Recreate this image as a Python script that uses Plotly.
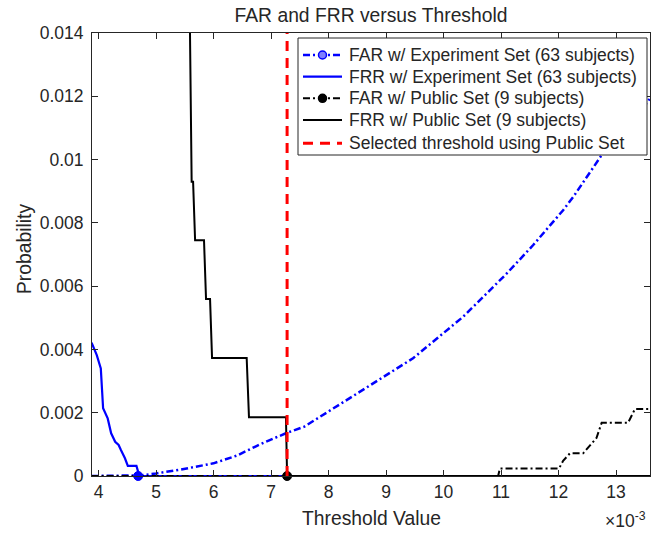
import plotly.graph_objects as go

# ---------------- data (threshold values in units of 1e-3) ----------------
far_exp_x = [3.88, 4.60, 4.75, 5.00, 5.42, 6.00, 6.40, 6.81, 7.27, 7.58, 8.03,
             8.49, 9.47, 10.34, 11.10, 11.56, 12.08, 12.26, 12.75, 13.20, 13.62]
far_exp_y = [0.0, 0.0, 0.00002, 0.00008, 0.0002, 0.0004, 0.00064, 0.0010, 0.00136,
             0.00156, 0.00208, 0.00261, 0.00372, 0.00503, 0.0064, 0.0073, 0.0084,
             0.00883, 0.01014, 0.0110, 0.0120]

frr_exp_x = [3.88, 3.97, 4.04, 4.08, 4.16, 4.22, 4.29, 4.35, 4.39, 4.46, 4.51,
             4.66, 4.71, 13.70]
frr_exp_y = [0.00421, 0.00382, 0.00340, 0.00214, 0.00182, 0.00135, 0.00108,
             0.00098, 0.00082, 0.00056, 0.00032, 0.00032, 0.0, 0.0]

far_pub_x = [3.88, 10.95, 10.98, 12.01, 12.08, 12.20, 12.43, 12.55, 12.66, 12.75,
             13.21, 13.33, 13.70]
far_pub_y = [0.0, 0.0, 0.00024, 0.00024, 0.00048, 0.00072, 0.00072, 0.00096,
             0.0012, 0.00168, 0.00168, 0.00212, 0.00212]

frr_pub_x = [5.588, 5.62, 5.645, 5.68, 5.835, 5.87, 5.94, 5.975, 6.577, 6.617,
             7.26, 7.28, 13.70]
frr_pub_y = [0.0145, 0.0093, 0.0093, 0.00745, 0.00745, 0.00559, 0.00559,
             0.00373, 0.00373, 0.00186, 0.00186, 0.0, 0.0]

eer_exp_x, eer_exp_y = [4.69], [0.0]
eer_pub_x, eer_pub_y = [7.28], [0.0]
selected_threshold = 7.28

x_ticks = [4, 5, 6, 7, 8, 9, 10, 11, 12, 13]
x_tick_labels = ["4", "5", "6", "7", "8", "9", "10", "11", "12", "13"]
y_ticks = [0, 0.002, 0.004, 0.006, 0.008, 0.01, 0.012, 0.014]
y_tick_labels = ["0", "0.002", "0.004", "0.006", "0.008", "0.01", "0.012", "0.014"]

legend_names = [
    "FAR w/ Experiment Set (63 subjects)",
    "FRR w/ Experiment Set (63 subjects)",
    "FAR w/ Public Set (9 subjects)",
    "FRR w/ Public Set (9 subjects)",
    "Selected threshold using Public Set",
]

# ---------------- styles ----------------
FONT = "Liberation Sans, Arial, Helvetica, sans-serif"
TXT = "#262626"
BLUE = "#0000ff"
BLACK = "#000000"
RED = "#ff0000"
DASHDOT = "7px,3px,2px,3px"
RED_DASH = "10px,7px"

W, H = 651, 534
ML, MR, MT, MB = 92, 1, 33, 58
PW, PH = W - ML - MR, H - MT - MB


def px_x(px):
    return (px - ML) / PW


def px_y(py):
    return 1 - (py - MT) / PH


fig = go.Figure()

fig.add_trace(go.Scatter(x=far_exp_x, y=far_exp_y, mode="lines", name=legend_names[0],
                         line=dict(color=BLUE, width=2.5, dash=DASHDOT)))
fig.add_trace(go.Scatter(x=frr_exp_x, y=frr_exp_y, mode="lines", name=legend_names[1],
                         line=dict(color=BLUE, width=2.2)))
fig.add_trace(go.Scatter(x=far_pub_x, y=far_pub_y, mode="lines", name=legend_names[2],
                         line=dict(color=BLACK, width=2, dash=DASHDOT)))
fig.add_trace(go.Scatter(x=frr_pub_x, y=frr_pub_y, mode="lines", name=legend_names[3],
                         line=dict(color=BLACK, width=2)))
fig.add_trace(go.Scatter(x=eer_exp_x, y=eer_exp_y, mode="markers", cliponaxis=False,
                         marker=dict(color=BLUE, size=9, line=dict(color=BLUE, width=1))))
fig.add_trace(go.Scatter(x=eer_pub_x, y=eer_pub_y, mode="markers", cliponaxis=False,
                         marker=dict(color=BLACK, size=9, line=dict(color=BLACK, width=1))))
fig.add_trace(go.Scatter(x=[selected_threshold, selected_threshold],
                         y=[y_ticks[0], y_ticks[-1]], mode="lines", name=legend_names[4],
                         line=dict(color=RED, width=3, dash=RED_DASH)))

# ---------------- custom legend (MATLAB style) ----------------
box_l, box_r, box_t, box_b = 298, 647, 38, 155
row_y = [55, 76.7, 98.3, 120, 143.3]
sample_l, sample_r, text_l = 303, 342, 347
sample_styles = [
    dict(color=BLUE, width=2.5, dash=DASHDOT),
    dict(color=BLUE, width=2.2),
    dict(color=BLACK, width=2, dash=DASHDOT),
    dict(color=BLACK, width=2),
    dict(color=RED, width=3, dash=RED_DASH),
]
sample_markers = [
    dict(fill="#7f7fff", line=BLUE),
    None,
    dict(fill=BLACK, line=BLACK),
    None,
    None,
]

shapes = [dict(type="rect", xref="paper", yref="paper",
               x0=px_x(box_l), x1=px_x(box_r), y0=px_y(box_b), y1=px_y(box_t),
               line=dict(color=TXT, width=1), fillcolor="white", layer="above")]
annotations = []
for name, ry, st, mk in zip(legend_names, row_y, sample_styles, sample_markers):
    shapes.append(dict(type="line", xref="paper", yref="paper",
                       x0=px_x(sample_l), x1=px_x(sample_r), y0=px_y(ry), y1=px_y(ry),
                       line=st, layer="above"))
    if mk is not None:
        cx = px_x((sample_l + sample_r) / 2)
        shapes.append(dict(type="circle", xref="paper", yref="paper",
                           xsizemode="pixel", ysizemode="pixel",
                           xanchor=cx, yanchor=px_y(ry),
                           x0=-4, x1=4, y0=-4, y1=4,
                           fillcolor=mk["fill"], line=dict(color=mk["line"], width=1.5),
                           layer="above"))
    annotations.append(dict(text=name, xref="paper", yref="paper", x=px_x(text_l),
                            y=px_y(ry), xanchor="left", yanchor="middle",
                            showarrow=False,
                            font=dict(family=FONT, size=17.5, color=TXT)))

annotations += [
    dict(text="Threshold Value", xref="paper", yref="paper", x=0.5,
         y=px_y(518), xanchor="center", yanchor="middle", showarrow=False,
         font=dict(family=FONT, size=19.3, color=TXT)),
    dict(text="Probability", xref="paper", yref="paper", x=px_x(24),
         y=px_y(249), xanchor="center", yanchor="middle",
         textangle=-90, showarrow=False,
         font=dict(family=FONT, size=19.3, color=TXT)),
    dict(text="×10<sup>-3</sup>", xref="paper", yref="paper", x=px_x(603),
         y=px_y(520), xanchor="left", yanchor="middle", showarrow=False,
         font=dict(family=FONT, size=17.5, color=TXT)),
]

axis_common = dict(
    showgrid=False, zeroline=False, showline=True, linecolor=TXT, linewidth=1,
    mirror="ticks", ticks="inside", ticklen=6, tickwidth=1, tickcolor=TXT,
    tickfont=dict(family=FONT, size=17.5, color=TXT),
)

fig.update_layout(
    width=W, height=H,
    margin=dict(l=ML, r=MR, t=MT, b=MB),
    paper_bgcolor="white", plot_bgcolor="white",
    font=dict(family=FONT, color=TXT),
    showlegend=False,
    title=dict(text="FAR and FRR versus Threshold", x=0.5, xref="paper",
               y=1 - 15 / H, yref="container", yanchor="middle",
               font=dict(family=FONT, size=19.3, color=TXT)),
    xaxis=dict(range=[3.887, 13.591], tickmode="array", tickvals=x_ticks,
               ticktext=x_tick_labels, **axis_common),
    yaxis=dict(range=[0, 0.014], tickmode="array", tickvals=y_ticks,
               ticktext=y_tick_labels, ticklabelstandoff=4, **axis_common),
    shapes=shapes,
    annotations=annotations,
)

fig.write_html("out.html")
